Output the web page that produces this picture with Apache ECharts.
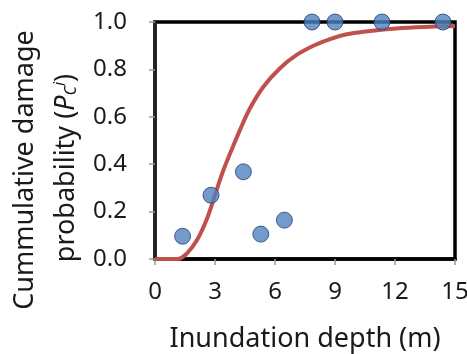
<!DOCTYPE html>
<html>
<head>
<meta charset="utf-8">
<script src="https://cdn.jsdelivr.net/npm/echarts@6/dist/echarts.min.js"></script>
<style>
  html, body { margin: 0; padding: 0; background: #fff; }
  #chart { width: 467px; height: 354px; }
</style>
</head>
<body>
<div id="chart"></div>
<script>
// observed damage points (depth m, cumulative probability)
const obsDepth = [1.38, 2.8, 4.42, 5.29, 6.47, 7.85, 9.0, 11.35, 14.4];
const obsProb = [0.096, 0.269, 0.368, 0.105, 0.164, 1.0, 1.0, 1.0, 1.0];

// fitted curve
const fitDepth = [0, 1.15, 1.6, 2.1, 2.6, 3.0, 3.4, 3.9, 4.25, 4.75, 5.42, 6.25, 7.08, 7.92, 8.75, 9.58, 10.42, 12.08, 13.75, 15];
const fitProb = [0, 0, 0.024, 0.08, 0.17, 0.27, 0.37, 0.475, 0.545, 0.636, 0.727, 0.805, 0.861, 0.9, 0.928, 0.948, 0.959, 0.973, 0.98, 0.983];

const xTicks = [0, 3, 6, 9, 12, 15];
const yTicks = [0, 0.2, 0.4, 0.6, 0.8, 1.0];

const font = '"Noto Sans", sans-serif';

const chart = echarts.init(document.getElementById('chart'));

const options = {
  animation: false,
  grid: {
    left: 155,
    right: 12,
    top: 22,
    bottom: 95,
    outerBoundsMode: 'none',
    show: true,
    borderColor: '#000',
    borderWidth: 3.5,
  },
  xAxis: {
    type: 'value',
    min: xTicks[0],
    max: xTicks[xTicks.length - 1],
    interval: 3,
    axisLine: { show: true, lineStyle: { color: '#000', width: 3.5 } },
    axisTick: { show: true, length: 6, lineStyle: { color: '#999', width: 1.5 } },
    axisLabel: { fontFamily: font, fontSize: 24, color: '#1a1a1a', margin: 21 },
    splitLine: { show: false },
    name: 'Inundation depth (m)',
    nameLocation: 'middle',
    nameGap: 67,
    nameTextStyle: { fontFamily: font, fontSize: 27, color: '#1a1a1a' },
  },
  yAxis: {
    type: 'value',
    min: yTicks[0],
    max: yTicks[yTicks.length - 1],
    interval: 0.2,
    axisLine: { show: true, lineStyle: { color: '#222', width: 3.5 } },
    axisTick: { show: true, length: 6, lineStyle: { color: '#999', width: 1.5 } },
    axisLabel: {
      fontFamily: font,
      fontSize: 24,
      color: '#1a1a1a',
      margin: 28,
      formatter: (v) => v.toFixed(1),
    },
    splitLine: { show: false },
  },
  graphic: [
    {
      type: 'text',
      x: 25,
      y: 170,
      rotation: Math.PI / 2,
      style: {
        text: 'Cummulative damage',
        fontFamily: font,
        fontSize: 27,
        fill: '#1a1a1a',
        align: 'center',
        verticalAlign: 'middle',
      },
    },
    {
      type: 'text',
      x: 66,
      y: 168,
      rotation: Math.PI / 2,
      style: {
        text: 'probability ({p|P}{sub|C}{sup|i})',
        fontFamily: font,
        fontSize: 27,
        fill: '#1a1a1a',
        align: 'center',
        verticalAlign: 'middle',
        rich: {
          p: { fontFamily: font, fontSize: 27, fontStyle: 'italic', fill: '#1a1a1a' },
          sub: { fontFamily: font, fontSize: 16, fontStyle: 'italic', fill: '#1a1a1a', verticalAlign: 'bottom', padding: [10, 0, 0, 0] },
          sup: { fontFamily: font, fontSize: 16, fontStyle: 'italic', fill: '#1a1a1a', verticalAlign: 'top', padding: [0, 0, 10, 0] },
        },
      },
    },
  ],
  series: [
    {
      type: 'line',
      data: fitDepth.map((d, i) => [d, fitProb[i]]),
      smooth: 0.35,
      showSymbol: false,
      lineStyle: { color: '#c0504d', width: 4 },
      z: 3,
    },
    {
      type: 'scatter',
      data: obsDepth.map((d, i) => [d, obsProb[i]]),
      symbolSize: 16,
      itemStyle: { color: '#4f81bd', borderColor: '#24446e', borderWidth: 1 },
      z: 4,
    },
  ],
};

chart.setOption(options);
</script>
</body>
</html>
